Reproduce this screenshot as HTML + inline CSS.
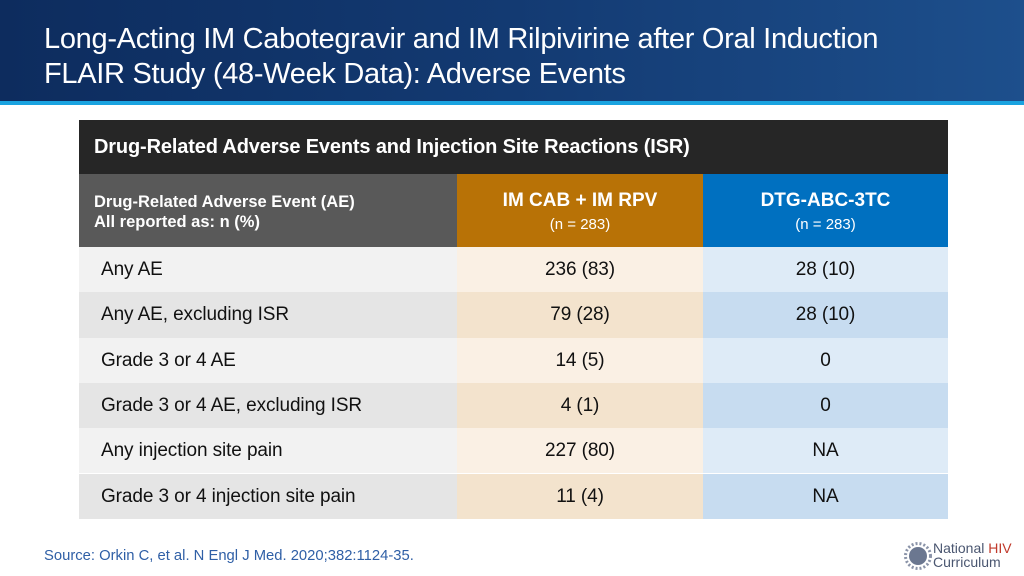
<!DOCTYPE html>
<html><head><meta charset="utf-8"><style>
*{margin:0;padding:0;box-sizing:border-box}
body{width:1024px;height:576px;overflow:hidden;background:#fff;font-family:"Liberation Sans",sans-serif;position:relative}
#hdr{position:absolute;left:0;top:0;width:1024px;height:101px;background:linear-gradient(90deg,#0d2c5e 0%,#133a72 50%,#1d4f8c 100%)}
#line{position:absolute;left:0;top:101px;width:1024px;height:4px;background:#1aa3e0}
#title{position:absolute;left:44px;top:22px;color:#fff;font-size:29px;line-height:35px;letter-spacing:-0.3px}
.c{position:absolute}
#tt{left:79px;top:120px;width:869px;height:54px;background:#262626;color:#fff;font-weight:bold;font-size:20px;padding:16px 0 0 15px;letter-spacing:-0.15px}
.h{top:174px;height:73px;color:#fff}
.r{position:absolute;height:45.3px;font-size:19px;color:#111;letter-spacing:-0.1px}
.lab{padding-left:22px;line-height:45px}
.v{text-align:center;line-height:45px}
#src{position:absolute;left:44px;top:548px;font-size:14.8px;color:#2f5fa6}
</style></head><body>
<div id="hdr"></div>
<div id="line"></div>
<div id="title">Long-Acting IM Cabotegravir and IM Rilpivirine after Oral Induction<br>FLAIR Study (48-Week Data): Adverse Events</div>
<div class="c" id="tt">Drug-Related Adverse Events and Injection Site Reactions (ISR)</div>
<div class="c h" style="left:79px;width:378px;background:#595959;font-weight:bold;font-size:16.5px;line-height:20px;padding:18px 0 0 15px">Drug-Related Adverse Event (AE)<br>All reported as: n (%)</div>
<div class="c h" style="left:457px;width:246px;background:#b87206;text-align:center;padding-top:16px"><div style="font-weight:bold;font-size:19px">IM CAB + IM RPV</div><div style="font-size:15px;margin-top:4px">(n = 283)</div></div>
<div class="c h" style="left:703px;width:245px;background:#0070c0;text-align:center;padding-top:16px"><div style="font-weight:bold;font-size:19px">DTG-ABC-3TC</div><div style="font-size:15px;margin-top:4px">(n = 283)</div></div>
<div id="rows"></div>
<div id="src">Source: Orkin C, et al. N Engl J Med. 2020;382:1124-35.</div>
<div class="c" style="left:903px;top:541px;width:30px;height:30px"><svg width="30" height="30"><circle cx="15" cy="15" r="9" fill="#6b7790"/><circle cx="15" cy="15" r="12.5" fill="none" stroke="#8a93a8" stroke-width="3" stroke-dasharray="2 2"/></svg></div>
<div class="c" style="left:933px;top:541px;font-size:14px;line-height:14px;color:#4a5670">National <span style="color:#c0392b">HIV</span><br>Curriculum</div>
<script>
const labels=["Any AE","Any AE, excluding ISR","Grade 3 or 4 AE","Grade 3 or 4 AE, excluding ISR","Any injection site pain","Grade 3 or 4 injection site pain"];
const cabRpv=["236 (83)","79 (28)","14 (5)","4 (1)","227 (80)","11 (4)"];
const dtg=["28 (10)","28 (10)","0","0","NA","NA"];
const rows=document.getElementById('rows');
const bg=[["#f2f2f2","#faf0e4","#deebf7"],["#e5e5e5","#f3e3cd","#c7dcf0"]];
labels.forEach((l,i)=>{
 const top=247+i*45.3;const b=bg[i%2];
 const cells=[[79,378,l,'lab'],[457,246,cabRpv[i],'v'],[703,245,dtg[i],'v']];
 cells.forEach((c,j)=>{
  const d=document.createElement('div');
  d.className='r '+c[3];
  d.style.left=c[0]+'px';d.style.width=c[1]+'px';d.style.top=top+'px';d.style.background=b[j];
  d.textContent=c[2];
  
  
  rows.appendChild(d);
 });
});
</script>
</body></html>
